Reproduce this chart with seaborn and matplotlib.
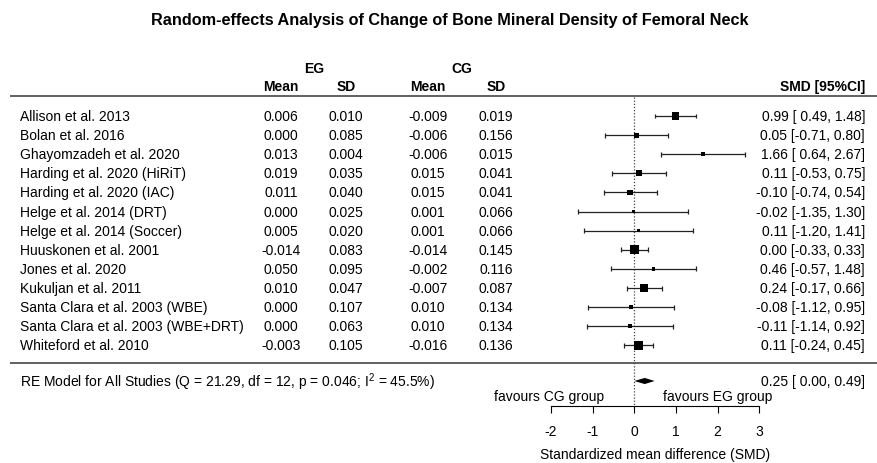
import numpy as np
import pandas as pd
import matplotlib
matplotlib.use("Agg")
import matplotlib.pyplot as plt
import seaborn as sns

# ---------------- data ----------------
studies = [
    "Allison et al. 2013", "Bolan et al. 2016", "Ghayomzadeh et al. 2020",
    "Harding et al. 2020 (HiRiT)", "Harding et al. 2020 (IAC)",
    "Helge et al. 2014 (DRT)", "Helge et al. 2014 (Soccer)",
    "Huuskonen et al. 2001", "Jones et al. 2020", "Kukuljan et al. 2011",
    "Santa Clara et al. 2003 (WBE)", "Santa Clara et al. 2003 (WBE+DRT)",
    "Whiteford et al. 2010",
]
eg_mean = [0.006, 0.000, 0.013, 0.019, 0.011, 0.000, 0.005, -0.014, 0.050, 0.010, 0.000, 0.000, -0.003]
eg_sd = [0.010, 0.085, 0.004, 0.035, 0.040, 0.025, 0.020, 0.083, 0.095, 0.047, 0.107, 0.063, 0.105]
cg_mean = [-0.009, -0.006, -0.006, 0.015, 0.015, 0.001, 0.001, -0.014, -0.002, -0.007, 0.010, 0.010, -0.016]
cg_sd = [0.019, 0.156, 0.015, 0.041, 0.041, 0.066, 0.066, 0.145, 0.116, 0.087, 0.134, 0.134, 0.136]
smd = [0.99, 0.05, 1.66, 0.11, -0.10, -0.02, 0.11, 0.00, 0.46, 0.24, -0.08, -0.11, 0.11]
ci_lo = [0.49, -0.71, 0.64, -0.53, -0.74, -1.35, -1.20, -0.33, -0.57, -0.17, -1.12, -1.14, -0.24]
ci_hi = [1.48, 0.80, 2.67, 0.75, 0.54, 1.30, 1.41, 0.33, 1.48, 0.66, 0.95, 0.92, 0.45]
re_est, re_lo, re_hi = 0.25, 0.00, 0.49
re_Q, re_df, re_p, re_I2 = 21.29, 12, 0.046, 45.5
x_ticks = [-2, -1, 0, 1, 2, 3]

# ---------------- style ----------------
sns.set_theme(style="white")
plt.rcParams["font.family"] = ["Liberation Sans", "DejaVu Sans"]
plt.rcParams["text.color"] = "black"
plt.rcParams["axes.labelcolor"] = "black"
plt.rcParams["xtick.color"] = "black"
plt.rcParams["mathtext.fontset"] = "custom"
plt.rcParams["mathtext.rm"] = "Liberation Sans"
FS = 10

fig = plt.figure(figsize=(8.78, 4.64), dpi=100)
ax = fig.add_axes([0, 0, 1, 1])

PX = 41.6      # pixels per SMD unit
X0 = 634.3     # pixel of SMD 0
Y0 = 117.0     # pixel of first study row
RS = 19.12     # row spacing in pixels


def px_x(p):
    return (p - X0) / PX


def px_y(p):
    return (p - Y0) / RS


ax.set_xlim(px_x(0), px_x(878))
ax.set_ylim(px_y(464), px_y(0))

k = len(studies)
rows = np.arange(k)

# weights for square size (random-effects, DL tau^2 from Q)
lo = np.array(ci_lo); hi = np.array(ci_hi)
vi = ((hi - lo) / (2 * 1.959964)) ** 2
wi = 1 / vi
C = wi.sum() - (wi ** 2).sum() / wi.sum()
tau2 = max(0.0, (re_Q - re_df) / C)
wre = 1 / (vi + tau2)

df = pd.DataFrame({"study": studies, "smd": smd, "lo": ci_lo, "hi": ci_hi,
                   "row": rows, "w": wre})
side_px = 3 + 6 * (df["w"] - df["w"].min()) / (df["w"].max() - df["w"].min())
df["area"] = (side_px * 0.72) ** 2

line_c = "#555555"
# horizontal rules
ax.hlines([px_y(97), px_y(364)], px_x(10), px_x(878), color=line_c, lw=1.3)

axis_row = px_y(407)
# reference line
ax.vlines(0, px_y(98), axis_row, colors="#444444", linestyles=(0, (1, 1.5)), lw=0.9)

# CIs
cap = 0.13
ax.hlines(df["row"], df["lo"], df["hi"], color="#222222", lw=0.9, zorder=2)
ax.vlines(df["lo"], df["row"] - cap, df["row"] + cap, color="#222222", lw=0.9, zorder=2)
ax.vlines(df["hi"], df["row"] - cap, df["row"] + cap, color="#222222", lw=0.9, zorder=2)

# squares
sns.scatterplot(data=df, x="smd", y="row", size="area",
                sizes=(df["area"].min(), df["area"].max()),
                marker="s", color="black", linewidth=0, legend=False, ax=ax, zorder=3)

# RE diamond
re_row = px_y(382)
dh = 0.16
ax.fill([re_lo, re_est, re_hi, re_est], [re_row, re_row - dh, re_row, re_row + dh],
        color="black", lw=0, zorder=3)

# text columns
x_lab = px_x(20)
x_egm, x_egsd, x_cgm, x_cgsd = px_x(281), px_x(346), px_x(428), px_x(496)
x_right = px_x(865)

for r, s, a, b, c, d, e, l, h in zip(rows, studies, eg_mean, eg_sd, cg_mean, cg_sd,
                                     smd, ci_lo, ci_hi):
    ax.text(x_lab, r, s, ha="left", va="center", fontsize=FS)
    ax.text(x_egm, r, f"{a:.3f}", ha="center", va="center", fontsize=FS)
    ax.text(x_egsd, r, f"{b:.3f}", ha="center", va="center", fontsize=FS)
    ax.text(x_cgm, r, f"{c:.3f}", ha="center", va="center", fontsize=FS)
    ax.text(x_cgsd, r, f"{d:.3f}", ha="center", va="center", fontsize=FS)
    ax.text(x_right, r, f"{e:.2f} [{l:5.2f}, {h:.2f}]", ha="right", va="center", fontsize=FS)

# headers
hr1 = px_y(69); hr2 = px_y(87.5)
ax.text(px_x(314), hr1, "EG", ha="center", va="center", fontsize=FS, fontweight="bold")
ax.text(px_x(462), hr1, "CG", ha="center", va="center", fontsize=FS, fontweight="bold")
for xx, t in [(x_egm, "Mean"), (x_egsd, "SD"), (x_cgm, "Mean"), (x_cgsd, "SD")]:
    ax.text(xx, hr2, t, ha="center", va="center", fontsize=FS, fontweight="bold")
ax.text(x_right, hr2, "SMD [95%CI]", ha="right", va="center", fontsize=FS, fontweight="bold")

# RE row
ax.text(x_lab, re_row,
        f"RE Model for All Studies (Q = {re_Q:.2f}, df = {re_df}, p = {re_p:.3f}; I$^2$ = {re_I2:.1f}%)",
        ha="left", va="center", fontsize=FS)
ax.text(x_right, re_row, f"{re_est:.2f} [{re_lo:5.2f}, {re_hi:.2f}]",
        ha="right", va="center", fontsize=FS)

# favours labels
fr = px_y(397)
ax.text(px_x(604), fr, "favours CG group", ha="right", va="center", fontsize=FS)
ax.text(px_x(663), fr, "favours EG group", ha="left", va="center", fontsize=FS)

# title
ax.text(px_x(450), px_y(21), "Random-effects Analysis of Change of Bone Mineral Density of Femoral Neck",
        ha="center", va="center", fontsize=11.7, fontweight="bold")

# x axis
for sp in ["top", "left", "right"]:
    ax.spines[sp].set_visible(False)
ax.spines["bottom"].set_position(("data", axis_row))
ax.spines["bottom"].set_bounds(x_ticks[0], x_ticks[-1])
ax.spines["bottom"].set_color("black")
ax.spines["bottom"].set_linewidth(0.8)
ax.set_xticks(x_ticks)
ax.set_xticklabels([str(t) for t in x_ticks])
ax.set_yticks([])
ax.tick_params(axis="x", direction="out", length=5, width=0.8, pad=8,
               labelsize=FS, colors="black", bottom=True)
ax.set_xlabel("")
ax.set_ylabel("")
ax.text(px_x(655), px_y(455), "Standardized mean difference (SMD)",
        ha="center", va="center", fontsize=FS)
ax.grid(False)

fig.savefig("out.png", dpi=100, facecolor="white")
